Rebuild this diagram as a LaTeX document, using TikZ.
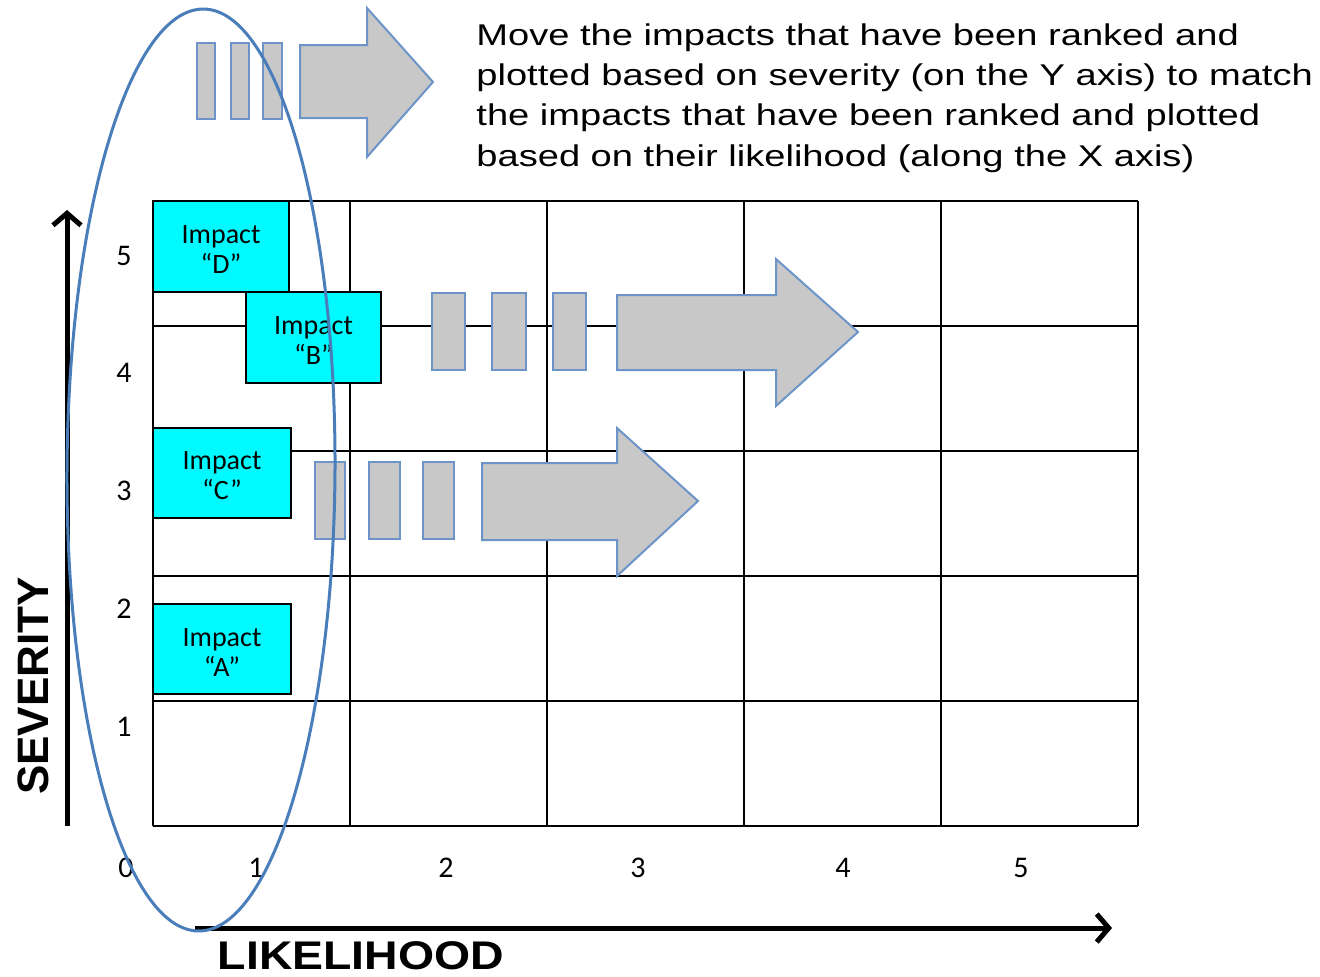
\documentclass[tikz,border=0pt]{standalone}
\usepackage{fontspec}
\setmainfont{Carlito}
\newfontfamily\arialfont{Liberation Sans}
\newfontfamily\notefont[FakeStretch=1.27]{Liberation Sans}
\newfontfamily\titlefont[FakeStretch=1.16]{Liberation Sans}
\usetikzlibrary{arrows.meta}
\definecolor{ellblue}{RGB}{74,126,187}
\definecolor{arrblue}{RGB}{108,148,200}
\definecolor{arrgray}{RGB}{200,200,200}
\definecolor{impcyan}{RGB}{0,250,255}
\tikzset{
  gridline/.style={line width=1.2pt, black},
  impact/.style={draw=black, line width=1pt, fill=impcyan, inner sep=0pt},
  impacttext/.style={align=center, inner sep=0pt, font=\fontsize{14}{15}\selectfont},
  grayblock/.style={fill=arrgray, draw=arrblue, line width=1pt, line join=miter},
  axisarrow/.style={line width=2.5pt, -{Straight Barb[length=6pt,width=14pt,line width=2.5pt]}},
  numlabel/.style={font=\fontsize{15}{15}\selectfont, inner sep=0pt},
  axistitle/.style={font=\arialfont\bfseries\fontsize{22}{22}\selectfont, inner sep=0pt},
  ringstyle/.style={draw=ellblue, line width=1.5pt}
}
\begin{document}
\begin{tikzpicture}[x=0.5pt,y=-0.5pt]
\useasboundingbox (0,0) rectangle (1320,976);
% grid
\foreach \x in {153,350,547,744,941,1138} \draw[gridline] (\x,201) -- (\x,826);
\foreach \y in {201,326,451,576,701,826} \draw[gridline] (153,\y) -- (1138,\y);
% axis labels
\foreach \n/\y in {5/256,4/373,3/491,2/609,1/727} \node[numlabel] (y\n) at (124,\y) {\n};
\foreach \n/\x in {0/126,1/256,2/446,3/638,4/843,5/1021} \node[numlabel] (x\n) at (\x,868) {\n};
% axes
\coordinate (ybot) at (67,826);
\coordinate (ytop) at (67,210);
\coordinate (xleft) at (195,928);
\coordinate (xright) at (1112,928);
\draw[axisarrow] (ybot) -- (ytop);
\draw[axisarrow] (xleft) -- (xright);
\node[axistitle, rotate=90] (sev) at (33,686) {SEVERITY};
\node[inner sep=0pt, font=\titlefont\bfseries\fontsize{20}{20}\selectfont] (lik) at (361,956) {LIKELIHOOD};
% impact boxes
\node[impact, minimum width=68pt, minimum height=45.5pt] (impD) at (221,246.5) {};
\node[impact, minimum width=67.5pt, minimum height=45.5pt] (impB) at (313.5,337.5) {};
\node[impact, minimum width=69pt, minimum height=45pt] (impC) at (222,473) {};
\node[impact, minimum width=69pt, minimum height=45pt] (impA) at (222,649) {};
\node[impacttext] (impDt) at ([yshift=-1.5pt]impD.center) {Impact\\“D”};
\node[impacttext] (impBt) at ([yshift=-1.5pt]impB.center) {Impact\\“B”};
\node[impacttext] (impCt) at ([yshift=-1.5pt]impC.center) {Impact\\“C”};
\node[impacttext] (impAt) at ([yshift=-1.5pt]impA.center) {Impact\\“A”};
% top arrow group
\draw[grayblock] (197,43) rectangle (215,119);
\draw[grayblock] (231,43) rectangle (249,119);
\draw[grayblock] (263,43) rectangle (282,119);
\draw[grayblock] (300,45) -- (367,45) -- (367,8) -- (433,82) -- (367,157) -- (367,118) -- (300,118) -- cycle;
% row 4 arrow group
\draw[grayblock] (432,293) rectangle (465,370);
\draw[grayblock] (492,293) rectangle (526,370);
\draw[grayblock] (553,293) rectangle (586,370);
\draw[grayblock] (617,295) -- (776,295) -- (776,259) -- (858,332) -- (776,406) -- (776,370) -- (617,370) -- cycle;
% row 3 arrow group
\draw[grayblock] (315,462) rectangle (345,539);
\draw[grayblock] (369,462) rectangle (400,539);
\draw[grayblock] (423,462) rectangle (454,539);
\draw[grayblock] (482,463) -- (617,463) -- (617,428) -- (698,501) -- (617,576) -- (617,540) -- (482,540) -- cycle;
% instruction text
\node[anchor=north west, inner sep=0pt, align=left,
  font=\notefont\fontsize{15}{20.2}\selectfont] (note) at (476,23)
  {Move the impacts that have been ranked and\\
   plotted based on severity (on the Y axis) to match\\
   the impacts that have been ranked and plotted\\
   based on their likelihood (along the X axis)};
% ellipse
\draw[ringstyle, rotate around={-0.3:(201,470)}] (201,470) ellipse [x radius=134, y radius=461];
\end{tikzpicture}
\end{document}
